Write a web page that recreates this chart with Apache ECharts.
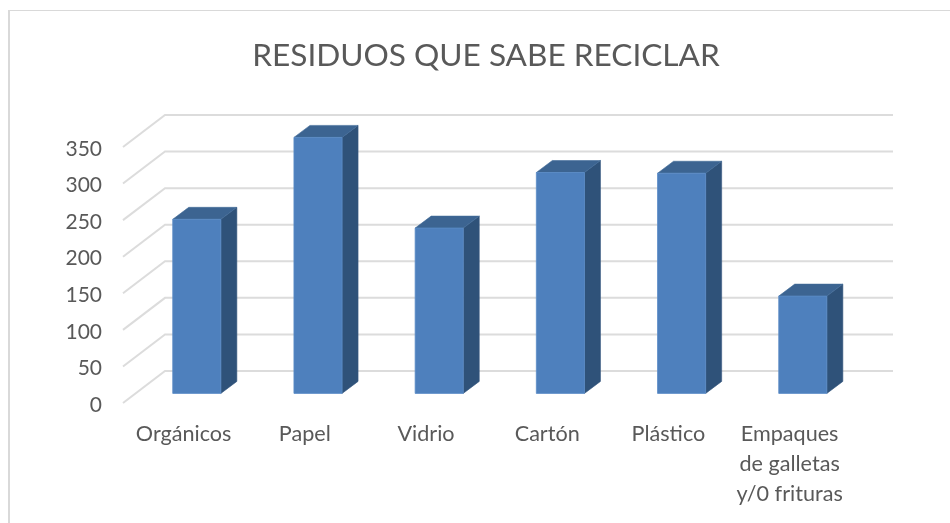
<!DOCTYPE html>
<html>
<head>
<meta charset="utf-8">
<style>html,body{margin:0;padding:0;background:#fff}#c{width:950px;height:523px}</style>
<script src="https://cdn.jsdelivr.net/npm/echarts@6/dist/echarts.min.js"></script>
</head>
<body>
<div id="c"></div>
<script>
var titleText = 'RESIDUOS QUE SABE RECICLAR';
var categories = ['Orgánicos', 'Papel', 'Vidrio', 'Cartón', 'Plástico', 'Empaques\nde galletas\ny/0 frituras'];
var values = [238, 350, 226, 302, 301, 133];
var yTicks = [0, 50, 100, 150, 200, 250, 300, 350];

var chart = echarts.init(document.getElementById('c'), null, {renderer: 'canvas'});
var wallDx = 42, wallDy = -32, wallEndX = 893;
var barShiftX = 13.2, barShiftY = -9.6, barDepthX = 16, barDepthY = -12;

chart.setOption({
  animation: false,
  backgroundColor: '#ffffff',
  title: {
    text: titleText, left: 481, top: 35, textAlign: 'center',
    textStyle: {fontFamily: 'Lato', fontSize: 31.6, fontWeight: 'normal', color: '#595959'}
  },
  grid: {left: 123, top: 147, width: 727.2, height: 256, containLabel: false},
  xAxis: {
    type: 'category', data: categories,
    axisLine: {show: false}, axisTick: {show: false}, splitLine: {show: false},
    axisLabel: {
      interval: 0, margin: 16, fontFamily: 'Lato', fontSize: 21.6, lineHeight: 30,
      color: '#595959', align: 'center'
    }
  },
  yAxis: {
    type: 'value', min: 0, max: 350, interval: 50,
    axisLine: {show: false}, axisTick: {show: false}, splitLine: {show: false},
    axisLabel: {
      margin: 21,
      formatter: '{n|{value}}',
      rich: {n: {fontFamily: 'Lato', fontSize: 21, color: '#595959', padding: [4, 0, 0, 0]}}
    }
  },
  graphic: [
    {type: 'line', silent: true, shape: {x1: 8.5, y1: 10.5, x2: 950, y2: 10.5}, style: {stroke: '#d9d9d9', lineWidth: 1.2}},
    {type: 'line', silent: true, shape: {x1: 9, y1: 10, x2: 9, y2: 523}, style: {stroke: '#d9d9d9', lineWidth: 2}}
  ],
  series: [
    {
      type: 'custom', coordinateSystem: 'cartesian2d', z: 1, silent: true,
      data: yTicks.map(function (v) { return [0, v]; }),
      encode: {x: 0, y: 1},
      renderItem: function (params, api) {
        var y = api.coord([0, api.value(1)])[1];
        var x0 = params.coordSys.x;
        return {
          type: 'polyline',
          shape: {points: [[x0, y], [x0 + wallDx, y + wallDy], [wallEndX, y + wallDy]]},
          style: {stroke: '#dcdcdc', lineWidth: 2, fill: null}
        };
      }
    },
    {
      type: 'custom', coordinateSystem: 'cartesian2d', z: 2, silent: true,
      data: values.map(function (v, i) { return [i, v]; }),
      encode: {x: 0, y: 1},
      renderItem: function (params, api) {
        var top = api.coord([api.value(0), api.value(1)]);
        var base = api.coord([api.value(0), 0]);
        var w = api.size([1, 0])[0] * 0.397;
        var l = top[0] + barShiftX - w / 2, r = l + w;
        var t = top[1] + barShiftY, b = base[1] + barShiftY;
        return {
          type: 'group',
          children: [
            {type: 'polygon', shape: {points: [[r, t], [r + barDepthX, t + barDepthY], [r + barDepthX, b + barDepthY], [r, b]]},
             style: {fill: '#2f5279', stroke: '#35587f', lineWidth: 0.6}},
            {type: 'polygon', shape: {points: [[l, t], [l + barDepthX, t + barDepthY], [r + barDepthX, t + barDepthY], [r, t]]},
             style: {fill: '#3c6491', stroke: '#426b99', lineWidth: 0.6}},
            {type: 'rect', shape: {x: l, y: t, width: w, height: b - t},
             style: {fill: '#4e80bd', stroke: '#5a8bc6', lineWidth: 0.8}}
          ]
        };
      }
    }
  ]
});
</script>
</body>
</html>
